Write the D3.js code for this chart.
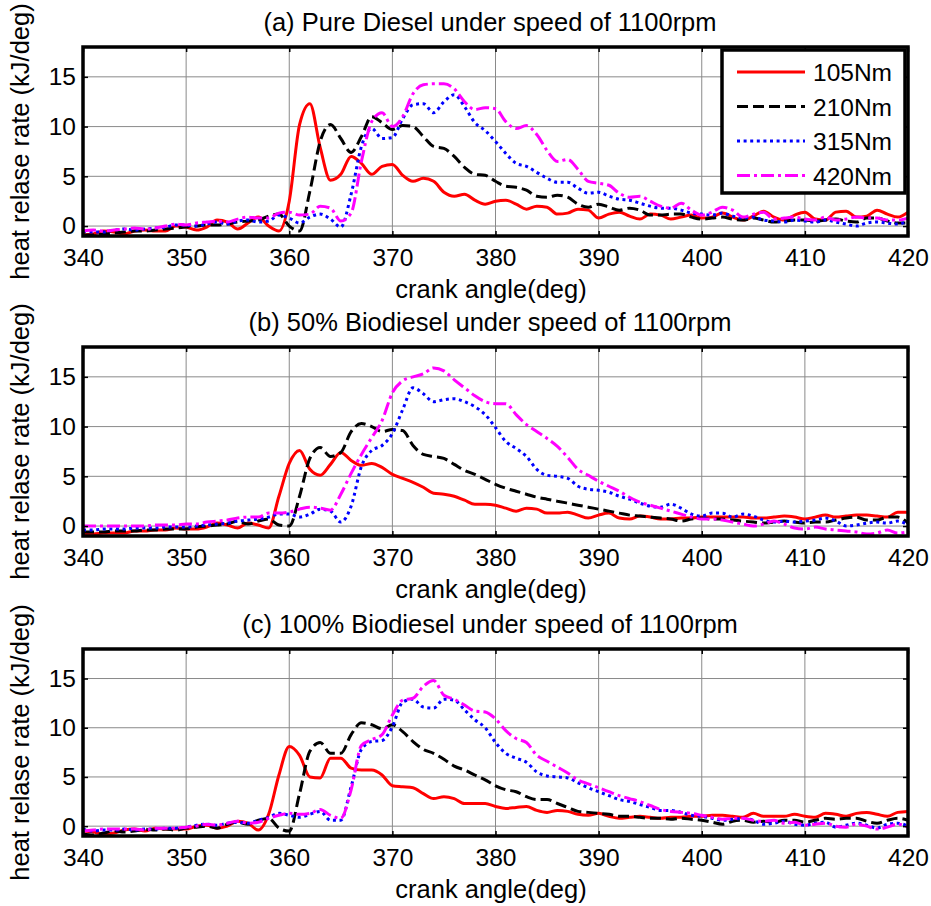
<!DOCTYPE html>
<html>
<head>
<meta charset="utf-8">
<script src="https://cdn.jsdelivr.net/npm/d3@7"></script>
<style>
    body { margin: 0; background: #fff; }
    svg { display: block; font-family: "Liberation Sans", Arial, sans-serif; }
</style>
</head>
<body>
<svg id="chart" width="931" height="906"></svg>
<script>
// crank angles (1 deg steps)
const angles = d3.range(340, 421);
const loads = ['105Nm', '210Nm', '315Nm', '420Nm'];
const xTicks = [340, 350, 360, 370, 380, 390, 400, 410, 420];
const yTicks = [0, 5, 10, 15];
const titles = [
    '(a) Pure Diesel under speed of 1100rpm',
    '(b) 50% Biodiesel under speed of 1100rpm',
    '(c) 100% Biodiesel under speed of 1100rpm'
];

// (a) pure diesel
const a105 = [-0.9,-0.8,-0.5,-0.6,-0.8,-0.5,-0.4,-0.5,-0.5,0.0, -0.1,-0.4,-0.1,0.6,0.4,-0.3,0.3,0.9,0.0,-0.5,
    2.5,10.2,12.3,7.9,4.6,5.2,7.0,6.3,5.2,6.0, 6.2,5.1,4.5,4.8,4.5,3.4,3.0,3.2,2.6,2.2,
    2.5,2.6,2.2,1.7,2.0,1.9,1.2,1.3,1.7,1.6, 0.8,1.2,1.4,1.0,0.7,1.2,1.1,0.7,0.9,1.1,
    0.8,0.9,1.3,0.9,0.6,1.0,1.5,0.9,0.6,1.1, 1.4,0.7,0.6,1.4,1.5,0.9,1.0,1.6,1.2,0.9, 1.4];
const a210 = [-0.9,-0.9,-0.8,-0.7,-0.6,-0.5,-0.5,-0.4,-0.3,-0.2, -0.1,0.0,0.1,0.1,0.2,0.4,0.5,0.6,1.0,1.2,
    0.0,-0.5,3.5,8.5,10.2,8.8,7.4,9.0,11.0,10.4, 9.7,10.1,10.0,9.0,8.0,7.8,7.0,5.9,5.2,5.1,
    4.5,4.0,3.9,3.6,3.0,2.9,3.1,2.9,2.2,1.9, 2.2,1.9,1.6,1.8,1.6,1.1,1.1,1.2,1.2,0.9,
    0.7,0.8,0.9,0.7,0.6,0.8,0.6,0.4,0.5,0.6, 0.6,0.5,0.6,0.7,0.5,0.4,0.8,0.8,0.5,0.3, 0.3];
const a315 = [-0.5,-0.6,-0.6,-0.4,-0.3,-0.4,-0.3,-0.2,-0.1,0.1, 0.1,0.0,0.2,0.4,0.2,0.5,0.6,0.4,0.5,1.1,
    0.8,0.3,0.9,1.2,0.7,-0.1,3.2,8.0,9.8,8.8, 8.9,10.8,12.2,12.3,11.4,12.5,13.2,12.0,10.4,9.6,
    8.5,7.3,6.3,6.0,5.4,4.8,4.4,4.4,3.8,3.3, 3.4,3.0,2.7,2.6,2.3,2.0,1.8,1.8,1.6,1.3,
    1.2,1.1,1.3,1.0,0.8,0.9,0.6,0.5,0.4,0.6, 0.5,0.4,0.6,0.4,0.2,0.0,0.3,0.4,0.3,0.2, 0.5];
const a420 = [-0.5,-0.4,-0.5,-0.4,-0.3,-0.2,-0.3,-0.2,0.0,0.2, 0.1,0.3,0.4,0.5,0.4,0.7,0.9,0.8,0.8,1.3,
    1.4,1.1,1.2,2.0,1.8,0.5,1.3,6.5,10.5,11.4, 10.0,11.0,13.3,14.2,14.3,14.3,13.8,12.5,11.7,11.9,
    11.8,10.5,9.8,10.1,9.2,7.6,6.5,6.7,5.7,4.5, 4.3,4.1,3.3,2.9,3.0,2.5,2.0,1.8,2.3,1.6,
    1.1,1.4,1.9,1.6,0.9,1.2,1.4,0.7,0.8,0.9, 0.7,0.6,0.9,0.6,0.7,0.9,0.8,0.8,0.6,0.6, 0.8];

// (b) 50% biodiesel
const b105 = [-0.8,-0.8,-0.7,-0.7,-0.7,-0.5,-0.5,-0.4,-0.4,-0.2, -0.3,-0.3,-0.1,0.3,0.1,-0.2,0.3,0.1,-0.2,3.0,
    6.3,7.6,5.7,5.1,6.2,7.4,6.6,6.1,6.3,5.9, 5.2,4.8,4.4,3.9,3.3,3.2,3.0,2.6,2.2,2.2,
    2.1,1.8,1.5,1.8,1.7,1.3,1.3,1.4,1.1,0.8, 1.1,1.3,0.8,0.7,1.0,0.9,0.7,0.7,0.8,0.8,
    0.9,0.9,0.9,0.9,0.9,0.8,0.8,0.9,1.0,0.9, 0.7,0.9,1.1,0.9,1.0,1.1,1.1,1.0,0.9,1.4, 1.4];
const b210 = [-0.6,-0.6,-0.6,-0.5,-0.5,-0.5,-0.4,-0.4,-0.3,-0.3, -0.3,-0.1,0.0,0.1,0.2,0.5,0.2,0.5,0.7,0.1,
    0.0,3.0,6.8,7.9,7.0,7.4,9.5,10.3,10.0,9.5, 9.7,9.6,8.1,7.2,7.0,6.8,6.2,5.6,5.2,4.7,
    4.2,3.8,3.5,3.2,2.9,2.7,2.5,2.3,2.1,1.9, 1.7,1.5,1.3,1.1,1.0,0.9,0.8,0.7,0.5,0.7,
    0.8,0.7,0.7,0.6,0.5,0.4,0.3,0.4,0.5,0.4, 0.3,0.4,0.4,0.6,0.8,0.9,0.6,0.6,0.9,0.9, 0.3];
const b315 = [-0.4,-0.4,-0.3,-0.3,-0.3,-0.2,-0.2,-0.2,-0.1,-0.1, -0.1,0.0,0.1,0.2,0.3,0.5,0.6,0.7,0.9,1.2,
    1.2,0.9,1.2,1.7,1.5,0.4,2.0,6.0,7.6,8.1, 9.3,11.7,13.9,13.3,12.5,12.7,12.8,12.5,12.0,11.2,
    9.9,8.5,7.8,7.0,5.7,5.1,5.0,4.8,4.0,3.7, 3.6,3.4,3.0,2.7,2.3,2.0,1.9,2.2,1.8,1.2,
    1.0,1.3,1.3,0.9,1.2,1.0,0.6,0.4,0.5,0.4, 0.5,0.6,0.8,0.5,0.0,0.1,0.3,0.4,0.3,0.5, 0.1];
const b420 = [0.0,0.0,0.0,0.0,0.0,0.0,0.0,0.1,0.1,0.1, 0.2,0.2,0.4,0.5,0.6,0.8,0.9,0.9,1.3,1.3,
    1.4,1.7,1.9,1.8,1.6,3.2,5.3,7.2,8.9,10.6, 13.4,14.6,15.0,15.3,15.9,15.6,14.7,13.9,13.1,12.5,
    12.3,12.3,11.2,10.2,9.5,8.8,8.0,6.9,5.7,5.1, 4.5,4.0,3.5,2.9,2.4,2.1,1.8,1.5,1.2,0.9,
    0.7,0.7,0.6,0.4,0.2,0.0,0.2,0.5,0.2,-0.2, -0.3,-0.1,-0.3,-0.4,-0.5,-0.6,-0.8,-0.7,-0.4,-0.7, -0.6];

// (c) 100% biodiesel
const c105 = [-0.5,-0.6,-0.8,-0.7,-0.4,-0.3,-0.5,-0.2,-0.3,-0.3, -0.3,0.0,0.1,-0.2,0.0,0.5,0.3,-0.4,1.2,5.2,
    8.1,7.2,5.0,4.9,6.9,6.9,5.9,5.7,5.7,5.2, 4.1,4.0,3.9,3.3,2.8,3.0,2.8,2.3,2.3,2.3,
    2.0,1.8,1.9,2.0,1.6,1.4,1.6,1.5,1.2,1.1, 1.3,1.0,0.8,0.9,1.0,0.9,0.8,0.9,0.9,1.0,
    1.0,1.1,1.1,1.0,0.9,1.3,1.0,1.0,1.0,1.2, 1.0,0.9,1.3,1.2,1.0,1.3,1.4,1.2,1.0,1.4, 1.5];
const c210 = [-0.8,-0.9,-0.7,-0.5,-0.6,-0.5,-0.3,-0.4,-0.3,-0.4, -0.2,-0.1,0.0,-0.2,0.2,0.4,0.2,0.6,0.8,-0.2,
    -0.5,3.3,7.6,8.5,7.4,7.4,9.3,10.5,10.3,9.9, 10.3,9.6,8.6,7.8,7.4,6.8,6.1,5.7,5.2,4.7,
    4.1,3.7,3.5,3.0,2.7,2.7,2.3,1.9,1.5,1.4, 1.3,1.2,1.0,1.0,0.9,0.8,0.8,0.7,0.8,0.7,
    0.6,0.4,0.2,0.5,0.6,0.4,0.5,0.4,0.6,0.6, 0.4,0.6,0.8,0.7,0.8,0.8,0.5,0.3,0.6,0.8, 0.6];
const c315 = [-0.3,-0.5,-0.4,-0.4,-0.3,-0.4,-0.3,-0.3,-0.2,-0.2, -0.1,0.1,0.2,0.1,0.3,0.4,0.3,0.6,0.9,1.3,
    1.1,0.9,1.2,1.5,0.6,0.6,4.0,7.8,8.6,8.7, 10.1,12.6,12.9,12.1,12.0,12.9,12.8,11.8,10.8,10.0,
    8.5,7.4,6.9,6.5,5.5,5.1,5.0,4.9,4.4,3.9, 3.5,3.1,2.7,2.5,2.2,1.9,1.6,1.6,1.4,1.1,
    1.0,0.8,0.6,0.7,0.8,0.6,0.2,0.3,0.5,0.2, 0.1,0.3,0.4,-0.1,0.1,0.3,0.1,-0.2,0.2,0.3, 0.0];
const c420 = [-0.5,-0.4,-0.3,-0.3,-0.3,-0.3,-0.4,-0.2,-0.2,-0.2, -0.1,0.0,0.2,0.1,0.3,0.5,0.3,0.4,0.8,1.1,
    1.3,1.2,1.3,1.7,1.1,0.8,3.7,8.2,8.8,9.3, 11.3,12.8,13.0,14.2,14.8,13.3,12.9,12.3,11.7,11.6,
    10.9,9.7,8.9,8.5,7.2,6.6,6.0,5.4,4.7,4.3, 3.9,3.5,3.1,2.8,2.5,2.1,1.7,1.5,1.4,1.3,
    1.1,0.9,0.7,0.8,0.8,0.6,0.5,0.6,0.3,0.4, 0.1,0.2,0.3,0.0,-0.1,0.2,0.0,-0.3,-0.1,0.2, -0.1];

// style of each load (MATLAB r-, k--, b:, m-.)
const colors = ['#ff0000', '#000000', '#0000ff', '#ff00ff'];
const dashes = [null, '11,5', '3,3.6', '13,4,3,4'];

const panels = [
    { title: titles[0], top: 47, h: 189, series: [a105, a210, a315, a420], legend: true },
    { title: titles[1], top: 347, h: 189, series: [b105, b210, b315, b420] },
    { title: titles[2], top: 649, h: 187, series: [c105, c210, c315, c420] }
];

const left = 83, right = 908;
const svg = d3.select('#chart');
const x = d3.scaleLinear().domain([340, 420]).range([left, right]);

panels.forEach((p, pi) => {
    const y = d3.scaleLinear().domain([-1, 18]).range([p.top + p.h, p.top]);
    const g = svg.append('g');

    // grille grise
    g.append('g').selectAll('line')
        .data(xTicks.slice(1, -1)).join('line')
        .attr('x1', d => x(d)).attr('x2', d => x(d))
        .attr('y1', p.top).attr('y2', p.top + p.h)
        .attr('stroke', '#8a8a8a').attr('stroke-width', 1);
    g.append('g').selectAll('line')
        .data(yTicks).join('line')
        .attr('x1', left).attr('x2', right)
        .attr('y1', d => y(d)).attr('y2', d => y(d))
        .attr('stroke', '#8a8a8a').attr('stroke-width', 1);

    // clip
    svg.append('clipPath').attr('id', 'clip' + pi)
        .append('rect')
        .attr('x', left).attr('y', p.top)
        .attr('width', right - left).attr('height', p.h);

    const line = d3.line()
        .x((d, i) => x(angles[i]))
        .y(d => y(d))
        .curve(d3.curveMonotoneX);

    g.append('g').attr('clip-path', `url(#clip${pi})`)
        .selectAll('path')
        .data(p.series).join('path')
        .attr('d', line)
        .attr('fill', 'none')
        .attr('stroke', (d, i) => colors[i])
        .attr('stroke-width', 3)
        .attr('stroke-dasharray', (d, i) => dashes[i]);

    // axes, ticks inside on all 4 sides
    const axB = g.append('g').attr('transform', `translate(0,${p.top + p.h})`)
        .call(d3.axisBottom(x).tickValues(xTicks).tickSize(-5).tickPadding(13));
    const axT = g.append('g').attr('transform', `translate(0,${p.top})`)
        .call(d3.axisTop(x).tickValues(xTicks).tickSize(-5).tickFormat(''));
    const axL = g.append('g').attr('transform', `translate(${left},0)`)
        .call(d3.axisLeft(y).tickValues(yTicks).tickSize(-5).tickPadding(7));
    const axR = g.append('g').attr('transform', `translate(${right},0)`)
        .call(d3.axisRight(y).tickValues(yTicks).tickSize(-5).tickFormat(''));
    [axB, axT, axL, axR].forEach(a => {
        a.select('.domain').remove();
        a.selectAll('line').attr('stroke', '#000').attr('stroke-width', 1.5);
        a.selectAll('text').attr('fill', '#000').style('font-size', '24.5px')
            .style('font-family', '"Liberation Sans", Arial, sans-serif');
    });

    // cadre
    g.append('rect')
        .attr('x', left).attr('y', p.top)
        .attr('width', right - left).attr('height', p.h)
        .attr('fill', 'none').attr('stroke', '#000').attr('stroke-width', 3.5);

    // titres
    g.append('text')
        .attr('x', 490).attr('y', p.top - 16)
        .attr('text-anchor', 'middle').style('font-size', '25.5px')
        .text(p.title);
    g.append('text')
        .attr('x', 491).attr('y', p.top + p.h + 62)
        .attr('text-anchor', 'middle').style('font-size', '25.5px')
        .text('crank angle(deg)');
    g.append('text')
        .attr('transform', `translate(29,${p.top + p.h / 2}) rotate(-90)`)
        .attr('text-anchor', 'middle').style('font-size', '25.5px')
        .text('heat relase rate (kJ/deg)');

    if (p.legend) {
        const lg = g.append('g');
        lg.append('rect')
            .attr('x', 722).attr('y', 50).attr('width', 183).attr('height', 143)
            .attr('fill', '#fff').attr('stroke', '#000').attr('stroke-width', 3.5);
        const item = lg.selectAll('g.item').data(loads).join('g')
            .attr('class', 'item')
            .attr('transform', (d, i) => `translate(0,${72 + i * 34.5})`);
        item.append('line')
            .attr('x1', 737).attr('x2', 805)
            .attr('stroke', (d, i) => colors[i])
            .attr('stroke-width', 3)
            .attr('stroke-dasharray', (d, i) => dashes[i]);
        item.append('text')
            .attr('x', 813).attr('y', 9)
            .style('font-size', '24.5px')
            .text(d => d);
    }
});
</script>
</body>
</html>
